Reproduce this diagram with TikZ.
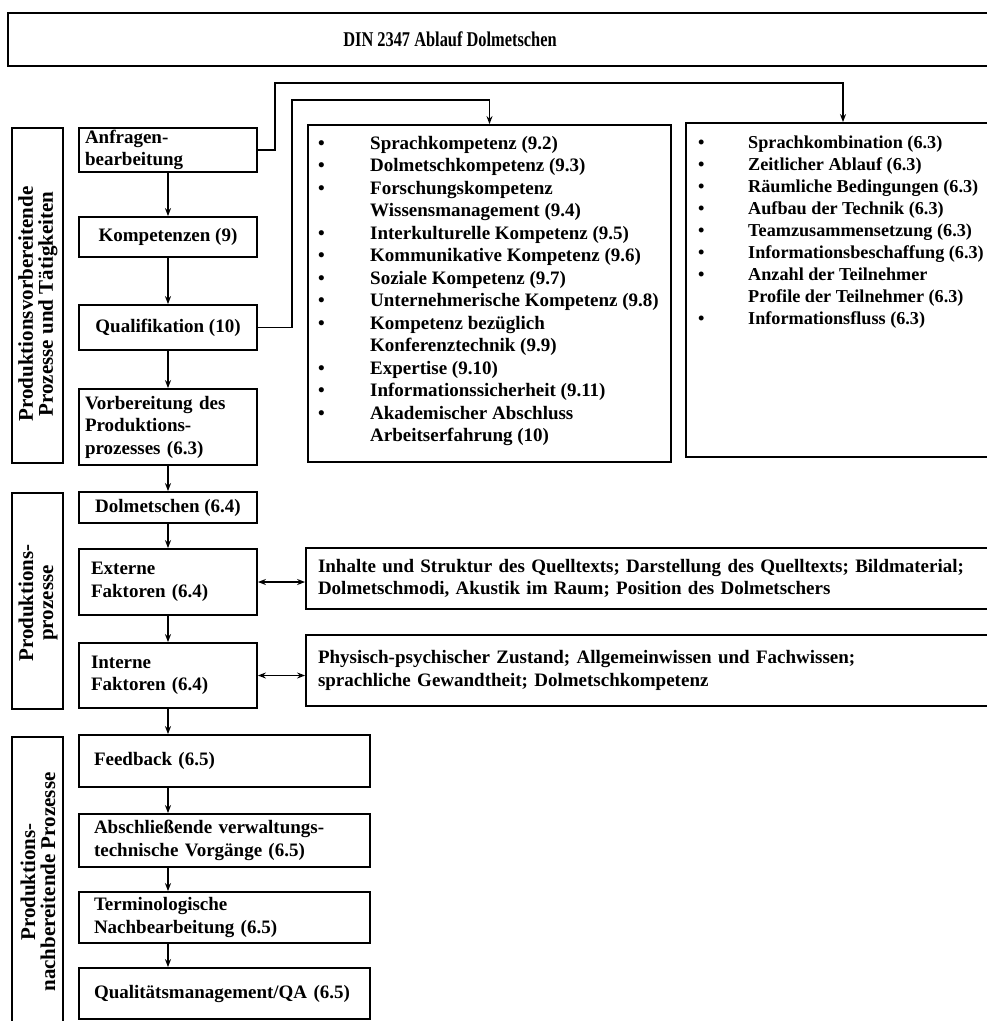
\documentclass[tikz,border=0pt]{standalone}
\usepackage{fontspec}
\setmainfont{Liberation Serif}
\usetikzlibrary{arrows.meta}
\newcommand\bitem[1]{\makebox[52pt][l]{\textbullet}#1}
\newcommand\bcont[1]{\hspace*{52pt}#1}
\newcommand\ritem[1]{\makebox[50pt][l]{\textbullet}#1}
\newcommand\rcont[1]{\hspace*{50pt}#1}
\begin{document}
\begin{tikzpicture}[x=1pt,y=-1pt,
  txt/.style={font=\bfseries\fontsize{19}{22.5}\selectfont},
  box/.style={draw, line width=1.8pt, inner sep=0pt, txt},
  lbox/.style={box, align=left},
  cbox/.style={box, align=center},
  sidetxt/.style={rotate=90, align=center, inner sep=0pt, font=\bfseries\fontsize{21}{20}\selectfont},
  conn/.style={line width=1.3pt, -{Stealth[length=8pt,width=6pt]}},
  dconn/.style={line width=1.3pt, {Stealth[length=8pt,width=6pt]}-{Stealth[length=8pt,width=6pt]}}
]
\useasboundingbox (0,0) rectangle (987,1021);

% title
\node[box, minimum width=992pt, minimum height=53pt] (title) at (504,39.5) {};
\node[txt, font=\bfseries\fontsize{21}{22}\selectfont] (titletext) at (450,39) {\scalebox{0.78}[1]{DIN 2347 Ablauf Dolmetschen}};

% side boxes
\node[box, minimum width=51pt, minimum height=335pt] (s1) at (37.5,295.5) {};
\node[sidetxt] (s1t) at (38,304) {Produktionsvorbereitende\\Prozesse und Tätigkeiten};
\node[box, minimum width=51pt, minimum height=216pt] (s2) at (37.5,601) {};
\node[sidetxt] (s2t) at (38,603) {Produktions-\\prozesse};
\node[box, minimum width=51pt, minimum height=303pt] (s3) at (37.5,888.5) {};
\node[sidetxt] (s3t) at (38,882) {Produktions-\\nachbereitende Prozesse};

% main column
\node[lbox, minimum width=178pt, minimum height=44pt, text width=166pt] (anfr) at (168,150) {Anfragen-\\bearbeitung};
\node[cbox, minimum width=178pt, minimum height=40pt] (komp) at (168,237) {Kompetenzen (9)};
\node[cbox, minimum width=178pt, minimum height=45pt] (qual) at (168,327.5) {Qualifikation (10)};
\node[lbox, minimum width=178pt, minimum height=76pt, text width=166pt] (vorb) at (168,427) {Vorbereitung des\\Produktions-\\prozesses (6.3)};
\node[cbox, minimum width=178pt, minimum height=31pt] (dolm) at (168,507.5) {Dolmetschen (6.4)};
\node[lbox, minimum width=178pt, minimum height=66pt, text width=154pt] (ext) at (168,582) {Externe\\Faktoren (6.4)};
\node[lbox, minimum width=178pt, minimum height=65pt, text width=154pt] (int) at (168,675.5) {Interne\\Faktoren (6.4)};
\node[lbox, minimum width=291pt, minimum height=52pt, text width=261pt] (feed) at (224.5,761) {Feedback (6.5)};
\node[lbox, minimum width=291pt, minimum height=53pt, text width=261pt] (absch) at (224.5,840.5) {Abschließende verwaltungs-\\technische Vorgänge (6.5)};
\node[lbox, minimum width=291pt, minimum height=51pt, text width=261pt] (term) at (224.5,917.5) {Terminologische\\Nachbearbeitung (6.5)};
\node[lbox, minimum width=291pt, minimum height=51pt, text width=261pt] (qa) at (224.5,993.5) {Qualitätsmanagement/QA (6.5)};

% list boxes
\node[box, minimum width=363pt, minimum height=337pt] (mbox) at (489.5,293.5) {};
\node[txt, align=left, inner sep=0pt, anchor=north west] (mtext) at (318,136) {%
\bitem{Sprachkompetenz (9.2)}\\
\bitem{Dolmetschkompetenz (9.3)}\\
\bitem{Forschungskompetenz}\\
\bcont{Wissensmanagement (9.4)}\\
\bitem{Interkulturelle Kompetenz (9.5)}\\
\bitem{Kommunikative Kompetenz (9.6)}\\
\bitem{Soziale Kompetenz (9.7)}\\
\bitem{Unternehmerische Kompetenz (9.8)}\\
\bitem{Kompetenz bezüglich}\\
\bcont{Konferenztechnik (9.9)}\\
\bitem{Expertise (9.10)}\\
\bitem{Informationssicherheit (9.11)}\\
\bitem{Akademischer Abschluss}\\
\bcont{Arbeitserfahrung (10)}};

\node[box, minimum width=314pt, minimum height=334pt] (rbox) at (843,290) {};
\node[txt, font=\bfseries\fontsize{18.2}{22}\selectfont, align=left, inner sep=0pt, anchor=north west] (rtext) at (698,136) {%
\ritem{Sprachkombination (6.3)}\\
\ritem{Zeitlicher Ablauf (6.3)}\\
\ritem{Räumliche Bedingungen (6.3)}\\
\ritem{Aufbau der Technik (6.3)}\\
\ritem{Teamzusammensetzung (6.3)}\\
\ritem{Informationsbeschaffung (6.3)}\\
\ritem{Anzahl der Teilnehmer}\\
\rcont{Profile der Teilnehmer (6.3)}\\
\ritem{Informationsfluss (6.3)}};

\node[lbox, minimum width=694pt, minimum height=61pt, text width=670pt] (extr) at (653,578.5) {Inhalte und Struktur des Quelltexts; Darstellung des Quelltexts; Bildmaterial;\\Dolmetschmodi, Akustik im Raum; Position des Dolmetschers};
\node[lbox, minimum width=694pt, minimum height=71pt, text width=670pt] (intr) at (653,670.5) {Physisch-psychischer Zustand; Allgemeinwissen und Fachwissen;\\sprachliche Gewandtheit; Dolmetschkompetenz};

% connectors
\draw[conn] (anfr.south) -- (komp.north);
\draw[conn] (komp.south) -- (qual.north);
\draw[conn] (qual.south) -- (vorb.north);
\draw[conn] (vorb.south) -- (dolm.north);
\draw[conn] (dolm.south) -- (ext.north);
\draw[conn] (ext.south) -- (int.north);
\draw[conn] (int.south) -- (int.south |- feed.north);
\draw[conn] (feed.south -| komp.south) -- (absch.north -| komp.south);
\draw[conn] (absch.south -| komp.south) -- (term.north -| komp.south);
\draw[conn] (term.south -| komp.south) -- (qa.north -| komp.south);

\draw[conn] (anfr.east) -| (275,83) -| (rbox.north);
\draw[conn] (qual.east) -| (292,100) -| (mbox.north);

\draw[dconn] (ext.east) -- (ext.east -| extr.west);
\draw[dconn] (int.east) -- (int.east -| intr.west);
\end{tikzpicture}
\end{document}
